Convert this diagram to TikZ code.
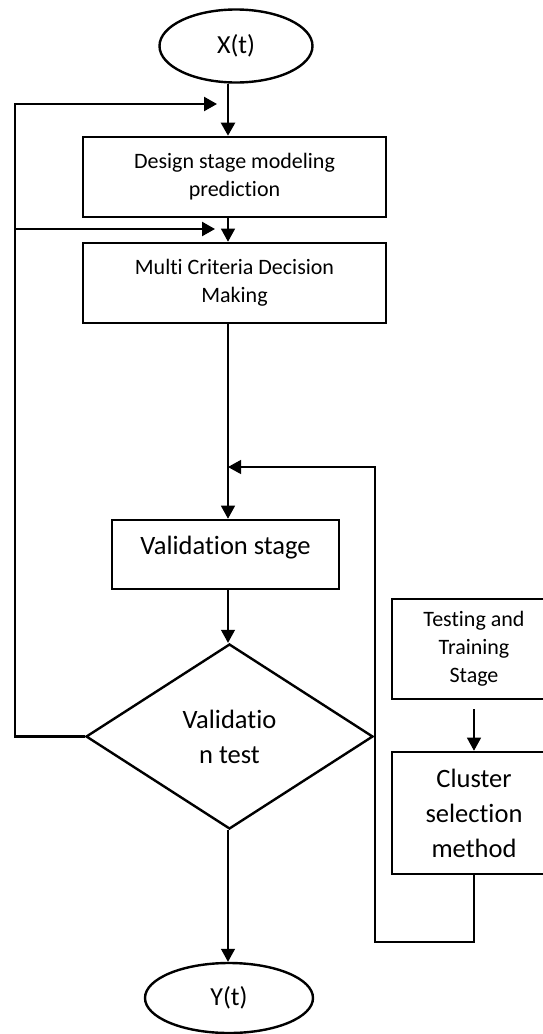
\documentclass[tikz,border=0pt]{standalone}
\usepackage{fontspec}
\setmainfont{Carlito}[Ligatures=NoCommon]
\usetikzlibrary{shapes.geometric,arrows.meta}

\begin{document}
\begin{tikzpicture}[x=1pt,y=-1pt,
    box/.style={draw,line width=2.6pt,inner sep=0pt,align=center},
    smalltext/.style={font=\fontsize{22}{28}\selectfont},
    bigtext/.style={font=\fontsize{26.5}{35}\selectfont},
    terminal/.style={draw,ellipse,line width=2.4pt,inner sep=0pt,font=\fontsize{26}{31}\selectfont},
    decision/.style={draw,diamond,line width=2.4pt,inner sep=0pt,align=center,bigtext},
    flow/.style={-{Triangle[length=13pt,width=14pt]}},
    boldline/.style={line width=2.4pt},
    thinline/.style={line width=1.2pt}]
    \useasboundingbox (0,0) rectangle (542,1034);
    \coordinate (col) at (228,0);
    \coordinate (left) at (15,0);
    \coordinate (fbA) at (217,104);
    \coordinate (fbB) at (215,229);
    \coordinate (fbC) at (228,467);
    \coordinate (loop) at (375,942);
    \node[terminal,minimum width=153pt,minimum height=73pt] (xt) at (236,46) {X(t)};
    \node[box,smalltext,minimum width=303pt,minimum height=80pt] (design) at (234.5,177) {Design stage modeling\\prediction};
    \node[box,smalltext,minimum width=303pt,minimum height=80pt] (mcdm) at (234.5,283) {Multi Criteria Decision\\Making};
    \node[box,bigtext,minimum width=227pt,minimum height=69pt,text height=12pt,text depth=12pt] (valstage) at (225.5,554.5) {Validation stage};
    \node[decision,minimum width=287pt,minimum height=185pt,aspect=1.55] (valtest) at (229.5,736.5) {Validatio\\n test};
    \node[box,smalltext,minimum width=164pt,minimum height=100pt] (train) at (474,649) {Testing and\\Training\\Stage};
    \node[box,bigtext,minimum width=164pt,minimum height=122pt] (cluster) at (474,813) {Cluster\\selection\\method};
    \node[terminal,minimum width=168pt,minimum height=70pt] (yt) at (229,998) {Y(t)};
    \draw[boldline,flow] (xt.south -| col) -- (design.north -| col);
    \draw[thinline,flow] (design.south -| col) -- (mcdm.north -| col);
    \draw[thinline,flow] (mcdm.south -| col) -- (valstage.north -| col);
    \draw[thinline,flow] (valstage.south -| col) -- (valtest.north -| col);
    \draw[thinline,flow] (valtest.south -| col) -- (yt.north -| col);
    \draw[boldline,flow] (valtest.west) -- (valtest.west -| left) |- (fbA);
    \draw[boldline,flow] (fbB -| left) -- (fbB);
    \draw[thinline,flow,shorten <=9pt] (train.south) -- (cluster.north);
    \draw[thinline,flow] (cluster.south) |- (loop) |- (fbC);
\end{tikzpicture}
\end{document}
